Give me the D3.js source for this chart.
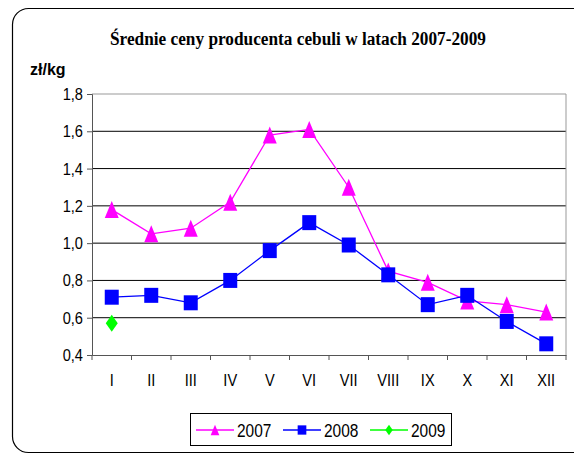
<!DOCTYPE html>
<html><head><meta charset="utf-8">
<script src="https://cdn.jsdelivr.net/npm/d3@7"></script>
<style>body{margin:0;background:#fff;}svg{display:block;}</style>
</head><body>
<script>
const months = ["I","II","III","IV","V","VI","VII","VIII","IX","X","XI","XII"];
const s2007 = [1.18,1.05,1.08,1.22,1.58,1.61,1.30,0.85,0.79,0.69,0.67,0.63];
const s2008 = [0.71,0.72,0.68,0.80,0.96,1.11,0.99,0.83,0.67,0.72,0.58,0.46];
const s2009 = [0.57];
const yTicks = [0.4,0.6,0.8,1.0,1.2,1.4,1.6,1.8];
const seriesNames = ["2007","2008","2009"];
const colors = ["#ff00ff","#0000ff","#00ff00"];

const W=574,H=455;
const FONT="'Liberation Sans', Arial, sans-serif";
const SX=0.86;
const svg=d3.select("body").append("svg").attr("width",W).attr("height",H);
svg.append("rect").attr("x",12.5).attr("y",8.5).attr("width",580).attr("height",444).attr("rx",16).attr("fill","#fff").attr("stroke","#000").attr("stroke-width",1.2);

const L=92,R=566,T=94,B=355;
const x=d3.scaleBand().domain(months).range([L,R]);
const y=d3.scaleLinear().domain([0.4,1.8]).range([B,T]);

svg.append("text").attr("x",298).attr("y",45).attr("text-anchor","middle")
 .attr("font-family","Liberation Serif, Times New Roman, serif").attr("font-weight","bold").attr("font-size",18)
 .attr("textLength",376).attr("lengthAdjust","spacingAndGlyphs")
 .text("Średnie ceny producenta cebuli w latach 2007-2009");
svg.append("text").attr("x",30).attr("y",75).attr("font-family",FONT).attr("font-weight","bold").attr("font-size",16).text("zł/kg");

// gridlines
svg.append("g").selectAll("line").data(yTicks.filter(d=>d>0.4&&d<1.8)).join("line")
 .attr("x1",L).attr("x2",R).attr("y1",d=>y(d)).attr("y2",d=>y(d)).attr("stroke","#000").attr("stroke-width",1);
// plot border top/right
svg.append("path").attr("d",`M${L},${T}H${R}V${B}`).attr("fill","none").attr("stroke","#999").attr("stroke-width",1);

const yAxis=svg.append("g").attr("transform",`translate(${L},0)`)
 .call(d3.axisLeft(y).tickValues(yTicks).tickSize(5).tickFormat(d=>d3.format(".1f")(d).replace(".",",")));
yAxis.select(".domain").attr("stroke","#555");
yAxis.selectAll(".tick line").attr("stroke","#555");
yAxis.selectAll("text").attr("font-family",FONT).attr("font-size",17).attr("fill","#000")
 .attr("x",-9).attr("transform",`translate(-9,0) scale(${SX},1) translate(9,0)`);

const xAxis=svg.append("g").attr("transform",`translate(0,${B})`)
 .call(d3.axisBottom(x).tickSize(0).tickPadding(19));
xAxis.select(".domain").attr("stroke","#555");
xAxis.selectAll("text").attr("font-family",FONT).attr("font-size",17).attr("fill","#000").attr("transform",`scale(${SX},1)`);
svg.append("g").selectAll("line").data(months.concat(["end"])).join("line")
 .attr("x1",(d,i)=>L+i*x.bandwidth()).attr("x2",(d,i)=>L+i*x.bandwidth())
 .attr("y1",B).attr("y2",B+5).attr("stroke","#555");

const cx=i=>x(months[i])+x.bandwidth()/2;
const line=d3.line().x((d,i)=>cx(i)).y(d=>y(d));
const data=[s2007,s2008,s2009];
function marker(k,s){
  if(k===0){const w=7*s,h=8.5*s;return `M0,${-h}L${w},${h}L${-w},${h}Z`;}
  if(k===1){const w=7*s,h=7.5*s;return `M${-w},${-h}H${w}V${h}H${-w}Z`;}
  const w=6*s,h=8.5*s;return `M0,${-h}L${w},0L0,${h}L${-w},0Z`;
}
data.forEach((s,k)=>{
  svg.append("path").datum(s).attr("d",line).attr("fill","none").attr("stroke",colors[k]).attr("stroke-width",1.3);
  svg.append("g").selectAll("path").data(s).join("path")
   .attr("transform",(d,i)=>`translate(${cx(i)},${y(d)})`)
   .attr("d",marker(k,1)).attr("fill",colors[k]);
});

// legend
const lg=svg.append("g");
lg.append("rect").attr("x",190.5).attr("y",413.5).attr("width",261).attr("height",32).attr("fill","#fff").attr("stroke","#000");
const lx=[196,283,370];
seriesNames.forEach((n,k)=>{
  const g=lg.append("g").attr("transform",`translate(${lx[k]},430)`);
  g.append("line").attr("x1",0).attr("x2",38).attr("stroke",colors[k]).attr("stroke-width",1.3);
  g.append("path").attr("transform","translate(19,0)").attr("d",marker(k,0.62)).attr("fill",colors[k]);
  g.append("text").attr("x",41).attr("y",6.5).attr("font-family",FONT).attr("font-size",18)
   .attr("transform",`translate(41,0) scale(${SX},1) translate(-41,0)`).text(n);
});
</script>
</body></html>
